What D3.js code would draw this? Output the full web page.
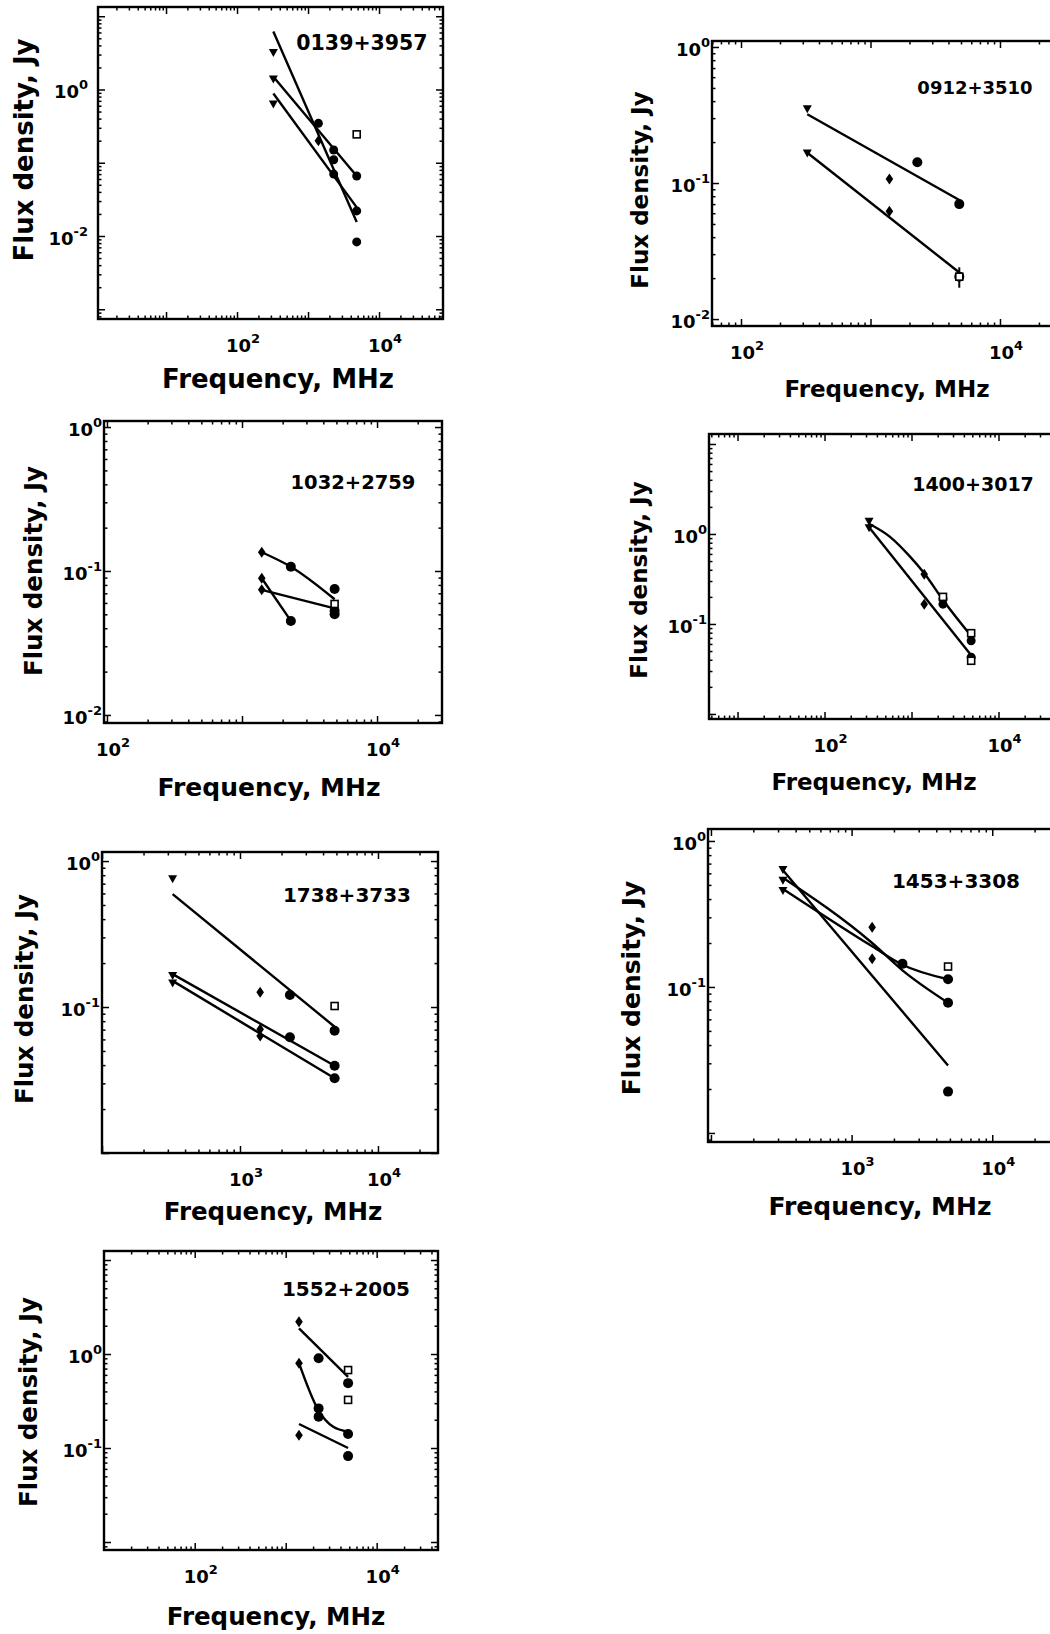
<!DOCTYPE html>
<html>
<head>
<meta charset="utf-8">
<script src="https://cdn.jsdelivr.net/npm/d3@7"></script>
<style>
  body { margin: 0; background: #fff; }
  svg { display: block; font-family: "DejaVu Sans", sans-serif; font-weight: bold; }
</style>
</head>
<body>
<svg id="fig" width="1050" height="1634"></svg>
<script>
// survey frequencies, MHz: 325 (triangles), 1400 (diamonds), 2300 / 4850 (dots, squares)
const freqs = [325, 1400, 2300, 4850];

// 0139+3957  -- [frequency MHz, flux Jy]
const s0139Tri = [[325, 3.15], [325, 1.37], [325, 0.625]];
const s0139Dia = [[1400, 0.2]];
const s0139Dot = [[1400, 0.345], [2300, 0.149], [2300, 0.11], [2300, 0.07], [4850, 0.066], [4850, 0.022], [4850, 0.0083]];
const s0139Sq = [[4850, 0.244]];
const s0139Fit = [
  [[325, 6.2], [4850, 0.0155]],
  [[325, 1.49], [4850, 0.066]],
  [[325, 0.88], [4850, 0.0246]]
];

// 0912+3510
const s0912Tri = [[325, 0.348], [325, 0.165]];
const s0912Dia = [[1400, 0.107], [1400, 0.062]];
const s0912Dot = [[2300, 0.142], [4850, 0.07], [4850, 0.0205]];
const s0912Sq = [[4850, 0.0205]];
const s0912Err = [[4850, 0.017, 0.024]];
const s0912Fit = [
  [[325, 0.32], [4850, 0.075]],
  [[325, 0.167], [4850, 0.022]]
];

// 1032+2759
const s1032Dia = [[1400, 0.135], [1400, 0.089], [1400, 0.074]];
const s1032Dot = [[2300, 0.107], [2300, 0.045], [4850, 0.075], [4850, 0.053], [4850, 0.05]];
const s1032Sq = [[4850, 0.059]];
const s1032Fit = [
  [[1400, 0.135], [2300, 0.107], [4850, 0.0636]],
  [[1400, 0.089], [2300, 0.045]],
  [[1400, 0.074], [4850, 0.055]]
];

// 1400+3017
const s1400Tri = [[325, 1.37], [325, 1.16]];
const s1400Dia = [[1400, 0.357], [1400, 0.166]];
const s1400Dot = [[2300, 0.19], [2300, 0.166], [4850, 0.065], [4850, 0.0427]];
const s1400Sq = [[2300, 0.2], [4850, 0.079], [4850, 0.039]];
const s1400Fit = [
  [[325, 1.3], [566, 0.93], [962, 0.56], [1400, 0.366], [2300, 0.185], [4850, 0.0736]],
  [[325, 1.19], [4850, 0.045]]
];

// 1738+3733
const s1738Tri = [[325, 0.75], [325, 0.163], [325, 0.145]];
const s1738Dia = [[1400, 0.126], [1400, 0.0703], [1400, 0.0633]];
const s1738Dot = [[2300, 0.121], [2300, 0.062], [4850, 0.0689], [4850, 0.0396], [4850, 0.0325]];
const s1738Sq = [[4850, 0.1016]];
const s1738Fit = [
  [[325, 0.594], [4850, 0.0733]],
  [[325, 0.168], [4850, 0.0396]],
  [[325, 0.151], [4850, 0.0325]]
];

// 1453+3308
const s1453Tri = [[325, 0.633], [325, 0.535], [325, 0.455]];
const s1453Dia = [[1400, 0.256], [1400, 0.156]];
const s1453Dot = [[2300, 0.144], [4850, 0.113], [4850, 0.078], [4850, 0.0192]];
const s1453Sq = [[4850, 0.138]];
const s1453Fit = [
  [[325, 0.63], [4850, 0.029]],
  [[325, 0.47], [1400, 0.19], [2300, 0.142], [4850, 0.113]],
  [[325, 0.56], [1400, 0.2], [2300, 0.13], [4850, 0.078]]
];

// 1552+2005
const s1552Dia = [[1400, 2.2], [1400, 0.8], [1400, 0.137]];
const s1552Dot = [[2300, 0.9], [2300, 0.264], [2300, 0.215], [4850, 0.49], [4850, 0.141], [4850, 0.082]];
const s1552Sq = [[4850, 0.675], [4850, 0.325]];
const s1552Fit = [
  [[1400, 1.87], [4850, 0.57]],
  [[1400, 0.8], [2300, 0.25], [3300, 0.169], [4850, 0.149]],
  [[1400, 0.18], [4850, 0.1]]
];

// panel layout: frame box [l, t, r, b], axis ranges as log10 exponents
const panels = [
  { name: "0139+3957", tri: s0139Tri, dia: s0139Dia, dot: s0139Dot, sq: s0139Sq, fit: s0139Fit, err: [],
    box: [98, 7, 443, 319], xd: [0.042, 4.901], yd: [-3.133, 1.126], xLab: [2, 4], yLab: [0, -2], yGap: 10, r: 4.5,
    title: [362, 50, 20.5], xt: [278, 388, 26], yt: [33, 150, 26] },
  { name: "0912+3510", tri: s0912Tri, dia: s0912Dia, dot: s0912Dot, sq: s0912Sq, fit: s0912Fit, err: s0912Err,
    box: [712, 41, 1062, 326], xd: [1.776, 4.479], yd: [-2.051, 0.044], xLab: [2, 4], yLab: [0, -1, -2], yGap: 2, r: 5,
    title: [975, 94, 18], xt: [887, 397, 23], yt: [648, 190, 23] },
  { name: "1032+2759", tri: [], dia: s1032Dia, dot: s1032Dot, sq: s1032Sq, fit: s1032Fit, err: [],
    box: [104, 421, 442, 723], xd: [1.978, 4.481], yd: [-2.056, 0.042], xLab: [2, 4], yLab: [0, -1, -2], yGap: 2, r: 5,
    title: [353, 489, 19.5], xt: [269, 796, 25], yt: [42, 571, 24.5] },
  { name: "1400+3017", tri: s1400Tri, dia: s1400Dia, dot: s1400Dot, sq: s1400Sq, fit: s1400Fit, err: [],
    box: [709, 434, 1062, 719], xd: [0.672, 4.730], yd: [-2.056, 1.111], xLab: [2, 4], yLab: [0, -1], yGap: 2, r: 4.5,
    title: [973, 491, 19], xt: [874, 790, 23], yt: [647, 580, 23] },
  { name: "1738+3733", tri: s1738Tri, dia: s1738Dia, dot: s1738Dot, sq: s1738Sq, fit: s1738Fit, err: [],
    box: [102, 852, 438, 1153], xd: [2.0, 4.435], yd: [-2.0, 0.062], xLab: [3, 4], yLab: [0, -1], yGap: 2, r: 5,
    title: [347, 902, 20], xt: [273, 1220, 24.5], yt: [33, 999, 24.5] },
  { name: "1453+3308", tri: s1453Tri, dia: s1453Dia, dot: s1453Dot, sq: s1453Sq, fit: s1453Fit, err: [],
    box: [708, 829, 1062, 1142], xd: [1.979, 4.496], yd: [-2.062, 0.082], xLab: [3, 4], yLab: [0, -1], yGap: 2, r: 5,
    title: [956, 888, 20], xt: [880, 1215, 25], yt: [640, 988, 25] },
  { name: "1552+2005", tri: [], dia: s1552Dia, dot: s1552Dot, sq: s1552Sq, fit: s1552Fit, err: [],
    box: [104, 1251, 438, 1550], xd: [1.003, 4.674], yd: [-2.085, 1.096], xLab: [2, 4], yLab: [0, -1], yGap: 2, r: 5,
    title: [346, 1296, 20], xt: [276, 1625, 24.5], yt: [37, 1402, 24.5] }
];

const svg = d3.select("#fig");

const decades = d => d3.range(Math.ceil(d[0] - 1e-9), Math.floor(d[1] + 1e-9) + 1).map(e => Math.pow(10, e));
const minors = d => {
  const out = [];
  for (let e = Math.floor(d[0]); e <= Math.ceil(d[1]); e++) {
    for (let k = 2; k <= 9; k++) {
      const v = k * Math.pow(10, e);
      const lv = Math.log10(v);
      if (lv > d[0] && lv < d[1]) out.push(v);
    }
  }
  return out;
};

panels.forEach(p => {
  const [x0, y0, x1, y1] = p.box;
  const x = d3.scaleLog().domain([Math.pow(10, p.xd[0]), Math.pow(10, p.xd[1])]).range([x0, x1]);
  const y = d3.scaleLog().domain([Math.pow(10, p.yd[0]), Math.pow(10, p.yd[1])]).range([y1, y0]);
  const g = svg.append("g");

  // inward ticks on all four sides
  const tickSet = (axisFn, scale, vals, size, tr) => {
    g.append("g")
      .attr("transform", tr)
      .call(axisFn(scale).tickValues(vals).tickSize(size).tickFormat(""))
      .call(a => a.select(".domain").remove())
      .selectAll("line").attr("stroke", "#000").attr("stroke-width", 1.5);
  };
  [[decades(p.xd), -7], [minors(p.xd), -3.5]].forEach(([v, s]) => {
    tickSet(d3.axisBottom, x, v, s, `translate(0,${y1})`);
    tickSet(d3.axisTop, x, v, s, `translate(0,${y0})`);
  });
  [[decades(p.yd), -7], [minors(p.yd), -3.5]].forEach(([v, s]) => {
    tickSet(d3.axisLeft, y, v, s, `translate(${x0},0)`);
    tickSet(d3.axisRight, y, v, s, `translate(${x1},0)`);
  });

  // frame
  g.append("rect")
    .attr("x", x0).attr("y", y0)
    .attr("width", x1 - x0).attr("height", y1 - y0)
    .attr("fill", "none").attr("stroke", "#000").attr("stroke-width", 2.4);

  // tick labels
  p.xLab.forEach(e => {
    const t = g.append("text")
      .attr("x", x(Math.pow(10, e)) + 6)
      .attr("y", y1 + 33)
      .attr("text-anchor", "middle")
      .attr("font-size", 18);
    t.append("tspan").text("10");
    t.append("tspan").attr("dy", -9).attr("font-size", 13).text(e);
  });
  p.yLab.forEach(e => {
    const t = g.append("text")
      .attr("x", x0 - p.yGap)
      .attr("y", y(Math.pow(10, e)) + 9)
      .attr("text-anchor", "end")
      .attr("font-size", 18);
    t.append("tspan").text("10");
    t.append("tspan").attr("dy", -9).attr("font-size", 13).text(e);
  });

  // fitted spectra
  const line = d3.line()
    .x(d => x(d[0]))
    .y(d => y(d[1]))
    .curve(d3.curveMonotoneX);
  g.selectAll(".fit")
    .data(p.fit)
    .enter()
    .append("path")
    .attr("d", line)
    .attr("fill", "none")
    .attr("stroke", "#000")
    .attr("stroke-width", 2.4);

  // error bars
  g.selectAll(".err")
    .data(p.err)
    .enter()
    .append("line")
    .attr("x1", d => x(d[0])).attr("x2", d => x(d[0]))
    .attr("y1", d => y(d[1])).attr("y2", d => y(d[2]))
    .attr("stroke", "#000").attr("stroke-width", 2);

  // markers
  g.selectAll(".tri")
    .data(p.tri)
    .enter()
    .append("path")
    .attr("transform", d => `translate(${x(d[0])},${y(d[1])})`)
    .attr("d", "M-4.5,-4L4.5,-4L0,4Z")
    .attr("fill", "#000");

  g.selectAll(".dia")
    .data(p.dia)
    .enter()
    .append("path")
    .attr("transform", d => `translate(${x(d[0])},${y(d[1])})`)
    .attr("d", "M0,-5.5L3.8,0L0,5.5L-3.8,0Z")
    .attr("fill", "#000");

  g.selectAll(".dot")
    .data(p.dot)
    .enter()
    .append("circle")
    .attr("cx", d => x(d[0]))
    .attr("cy", d => y(d[1]))
    .attr("r", p.r)
    .attr("fill", "#000");

  g.selectAll(".sq")
    .data(p.sq)
    .enter()
    .append("rect")
    .attr("x", d => x(d[0]) - 3.5)
    .attr("y", d => y(d[1]) - 3.5)
    .attr("width", 7).attr("height", 7)
    .attr("fill", "#fff")
    .attr("stroke", "#000")
    .attr("stroke-width", 1.6);

  // source name
  g.append("text")
    .attr("x", p.title[0]).attr("y", p.title[1])
    .attr("text-anchor", "middle")
    .attr("font-size", p.title[2])
    .text(p.name);

  // axis titles
  g.append("text")
    .attr("x", p.xt[0]).attr("y", p.xt[1])
    .attr("text-anchor", "middle")
    .attr("font-size", p.xt[2])
    .text("Frequency, MHz");
  g.append("text")
    .attr("transform", `translate(${p.yt[0]},${p.yt[1]}) rotate(-90)`)
    .attr("text-anchor", "middle")
    .attr("font-size", p.yt[2])
    .text("Flux density, Jy");
});
</script>
</body>
</html>
